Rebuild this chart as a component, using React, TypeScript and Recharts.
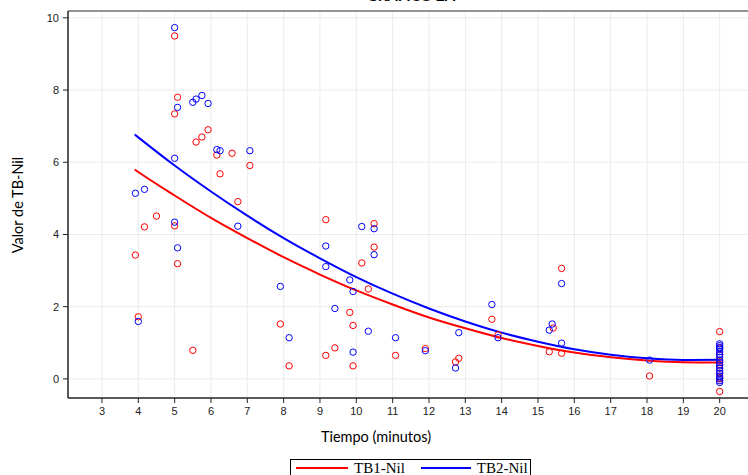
import React from 'react';
import { ComposedChart, Scatter, Line, XAxis, YAxis, CartesianGrid, ReferenceArea } from 'recharts';

const xTicks = [3, 4, 5, 6, 7, 8, 9, 10, 11, 12, 13, 14, 15, 16, 17, 18, 19, 20];
const yTicks = [0, 2, 4, 6, 8, 10];

const tb1X = [5, 5.08, 5, 5.92, 5.75, 5.59, 6.16, 6.58, 7.07, 6.25, 6.74, 4.5, 4.17, 5, 3.92, 5.08, 4, 7.91, 5.5, 8.15,
  9.16, 10.49, 10.49, 10.15, 10.33, 9.82, 9.91, 9.41, 9.16, 9.91, 11.08, 11.9, 12.73, 12.82, 13.73, 13.9,
  15.65, 15.42, 15.31, 15.65, 18.07, 20, 20, 20, 20, 20, 20, 20, 20, 20, 20];
const tb1Y = [9.5, 7.8, 7.34, 6.9, 6.7, 6.56, 6.2, 6.25, 5.91, 5.68, 4.91, 4.51, 4.21, 4.24, 3.43, 3.19, 1.72, 1.52, 0.79, 0.36,
  4.41, 4.3, 3.65, 3.21, 2.49, 1.84, 1.48, 0.86, 0.65, 0.36, 0.65, 0.84, 0.47, 0.57, 1.65, 1.22,
  3.06, 1.41, 0.75, 0.71, 0.08, 1.31, 0.85, 0.66, 0.5, 0.4, 0.3, 0.16, 0.05, 0.0, -0.35];

const tb2X = [5, 5.08, 5.5, 5.59, 5.75, 5.92, 6.16, 6.25, 7.07, 5, 3.92, 4.17, 5, 6.74, 5.08, 7.91, 4, 8.15,
  10.15, 10.49, 9.16, 10.49, 9.16, 9.82, 9.91, 9.41, 10.33, 11.08, 9.91, 11.9, 12.73, 12.82, 13.73, 13.9,
  15.65, 15.39, 15.31, 15.65, 18.07, 20, 20, 20, 20, 20, 20, 20, 20, 20, 20, 20, 20, 20, 20, 20, 20, 20];
const tb2Y = [9.73, 7.52, 7.66, 7.75, 7.85, 7.63, 6.35, 6.32, 6.32, 6.11, 5.14, 5.25, 4.34, 4.23, 3.63, 2.56, 1.59, 1.14,
  4.22, 4.16, 3.68, 3.44, 3.11, 2.74, 2.42, 1.95, 1.32, 1.14, 0.74, 0.78, 0.3, 1.28, 2.06, 1.14,
  2.64, 1.52, 1.35, 0.99, 0.52, 0.97, 0.92, 0.87, 0.82, 0.75, 0.68, 0.6, 0.52, 0.45, 0.38, 0.3, 0.22, 0.15, 0.08, 0.02, -0.05, -0.1];

const fitX = [3.9, 4, 5, 6, 7, 8, 9, 10, 11, 12, 13, 14, 15, 16, 17, 18, 19, 20];
const fit1Y = [5.8, 5.73, 5.08, 4.46, 3.9, 3.37, 2.89, 2.45, 2.06, 1.7, 1.4, 1.13, 0.91, 0.73, 0.6, 0.51, 0.46, 0.45];
const fit2Y = [6.77, 6.69, 5.91, 5.19, 4.52, 3.9, 3.34, 2.82, 2.36, 1.95, 1.59, 1.28, 1.03, 0.82, 0.67, 0.57, 0.525, 0.53];

const zip = (xs: number[], ys: number[]) => xs.map((x, i) => ({ x, y: ys[i] }));
const tb1Points = zip(tb1X, tb1Y);
const tb2Points = zip(tb2X, tb2Y);
const fit1 = zip(fitX, fit1Y);
const fit2 = zip(fitX, fit2Y);

const RED = '#ff0000';
const BLUE = '#0000ff';

const ring = (color: string) => (props: any) => (
  <circle cx={props.cx} cy={props.cy} r={3.2} fill="none" stroke={color} strokeWidth={1} />
);

const tickStyle = { fontSize: 11, fill: '#222', fontFamily: 'Liberation Sans, Arial, sans-serif' };
const labelFont = 'Lato, sans-serif';

export default function App() {
  return (
    <div style={{ position: 'fixed', left: 0, top: 0, width: 748, height: 475, overflow: 'hidden', background: '#fff' }}>
      <div style={{ position: 'absolute', left: 0, width: 822, top: -12, textAlign: 'center', fontFamily: labelFont, fontWeight: 700, fontSize: 15, lineHeight: '15px' }}>
        GRÁFICO 2A
      </div>
      <ComposedChart width={758} height={475} margin={{ top: 11, right: 2, bottom: 0, left: 0 }}>
        <CartesianGrid stroke="#ebebeb" strokeWidth={1} />
        <XAxis
          type="number"
          dataKey="x"
          domain={[2.065, 21]}
          ticks={xTicks}
          interval={0}
          allowDataOverflow
          height={77}
          tickSize={5}
          tickMargin={4}
          stroke="#222"
          tick={tickStyle}
          label={{
            content: () => (
              <text x={376} y={442} textAnchor="middle" fontFamily={labelFont} fontSize={14.5} fill="#000">
                Tiempo (minutos)
              </text>
            ),
          }}
        />
        <YAxis
          type="number"
          dataKey="y"
          domain={[-0.53, 10.19]}
          ticks={yTicks}
          interval={0}
          allowDataOverflow
          width={68}
          tickSize={5}
          tickMargin={4}
          stroke="#222"
          tick={tickStyle}
          label={{
            content: () => (
              <text x={23} y={205} transform="rotate(-90 23 205)" textAnchor="middle" fontFamily={labelFont} fontSize={14.5} fill="#000">
                Valor de TB-Nil
              </text>
            ),
          }}
        />
        <ReferenceArea x1={2.065} x2={21} y1={-0.53} y2={10.19} fill="none" stroke="#333" strokeWidth={1} ifOverflow="visible" />
        <Scatter name="TB1-Nil pts" data={tb1Points} shape={ring(RED)} isAnimationActive={false} />
        <Scatter name="TB2-Nil pts" data={tb2Points} shape={ring(BLUE)} isAnimationActive={false} />
        <Line name="TB1-Nil" data={fit1} dataKey="y" type="monotone" stroke={RED} strokeWidth={2} dot={false} activeDot={false} isAnimationActive={false} />
        <Line name="TB2-Nil" data={fit2} dataKey="y" type="monotone" stroke={BLUE} strokeWidth={2} dot={false} activeDot={false} isAnimationActive={false} />
      </ComposedChart>
      <div style={{ position: 'absolute', left: 290, top: 459, width: 241, height: 30, border: '1px solid #000', boxSizing: 'border-box', display: 'flex', alignItems: 'flex-start', paddingTop: 0, fontFamily: 'Liberation Serif, Times New Roman, serif', fontSize: 15 }}>
        <div style={{ width: 52, height: 2, background: RED, marginLeft: 5, marginTop: 7 }} />
        <span style={{ marginLeft: 6, lineHeight: '16px' }}>TB1-Nil</span>
        <div style={{ width: 50, height: 2, background: BLUE, marginLeft: 16, marginTop: 7 }} />
        <span style={{ marginLeft: 6, lineHeight: '16px' }}>TB2-Nil</span>
      </div>
    </div>
  );
}
